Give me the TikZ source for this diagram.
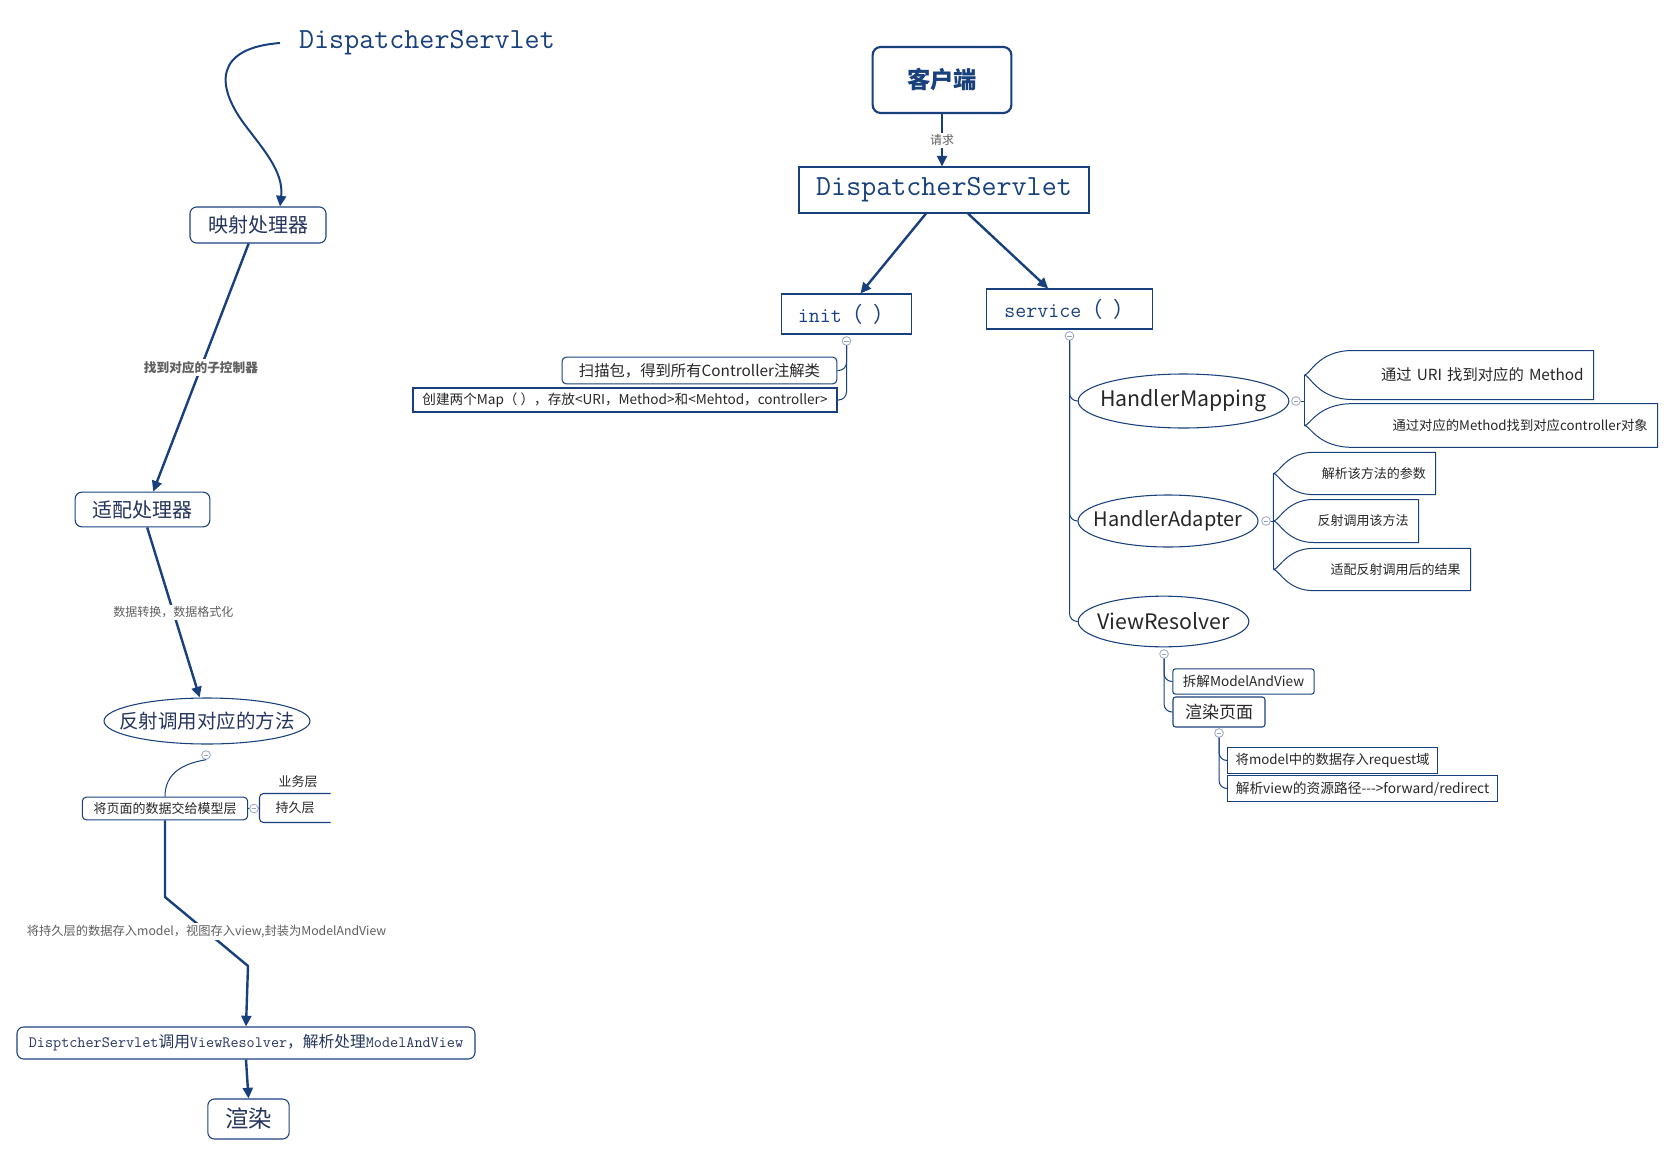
\documentclass[tikz,border=0pt]{standalone}
\usepackage{fontspec}
\setmainfont{Noto Sans CJK SC}
\usetikzlibrary{arrows.meta,shapes.geometric}

\definecolor{navy}{RGB}{24,64,124}
\definecolor{inkblue}{RGB}{36,52,92}
\definecolor{labelgray}{RGB}{95,95,95}
\definecolor{foldgray}{RGB}{150,162,195}

\tikzset{every picture/.style={line width=0.75pt}}
\tikzset{
  flow/.style={draw=navy, line width=1.8pt, -{Triangle[length=8pt,width=7.5pt]}},
  branch/.style={draw=navy, line width=0.75pt, rounded corners=6pt},
  topic/.style={draw=navy, line width=0.8pt, rounded corners=5pt, inner sep=0pt, text=inkblue},
  plainbox/.style={draw=navy, line width=0.8pt, inner sep=0pt, text=black!85},
  oval/.style={draw=navy, line width=0.8pt, ellipse, inner xsep=-18pt, inner ysep=0pt, text=black!85},
  edgelabel/.style={fill=white, text=labelgray, inner sep=1.5pt},
  fold/.style={circle, draw=foldgray, fill=white, line width=0.6pt, minimum size=6.5pt, inner sep=0pt,
    path picture={\draw[foldgray, line width=0.6pt] ([xshift=-1.8pt]path picture bounding box.center) -- ([xshift=1.8pt]path picture bounding box.center);}},
  leaf/.style={align=right, inner xsep=7pt, inner ysep=0pt, text=black!85},
  leafline/.style={draw=navy, line width=0.75pt},
}

\begin{document}
\begin{tikzpicture}[x=0.75pt,y=0.75pt,yscale=-1,xscale=1]
\useasboundingbox (0,0) rectangle (1674,1156);

%Left flow: nodes
\node[text=navy, font=\ttfamily\fontsize{21.9}{24}\selectfont, inner xsep=14pt, inner ysep=2pt, anchor=west] (dstxt) at (280,43) {DispatcherServlet};
%Rounded Rect
\node[topic, minimum width=102pt, minimum height=27pt, font=\fontsize{15}{18}\selectfont] (ys) at (258,225) {映射处理器};
%Rounded Rect
\node[topic, minimum width=101pt, minimum height=26pt, font=\fontsize{15}{18}\selectfont] (sp) at (142.5,509.5) {适配处理器};
%Shape: Ellipse
\node[oval, text=inkblue, minimum width=154.5pt, minimum height=34.5pt, font=\fontsize{14.6}{18}\selectfont] (fs) at (207,721) {反射调用对应的方法};
\node[fold] (fsdot) at (206,755) {};
%Rounded Rect
\node[topic, rounded corners=3pt, text=black!85, minimum width=124pt, minimum height=17pt, font=\fontsize{9.75}{12}\selectfont] (mx) at (165,808.5) {将页面的数据交给模型层};
\node[inner sep=0pt, minimum width=52.5pt, minimum height=21pt, text=black!85, font=\fontsize{9.75}{12}\selectfont] (cj) at (295,808) {持久层};
\draw[navy, line width=0.8pt, rounded corners=3pt] (cj.north east) -- (cj.north west) -- (cj.south west) -- (cj.south east);
\node[text=black!85, font=\fontsize{9.75}{12}\selectfont] (yw) at (298,782) {业务层};
\draw[branch] (mx.east) -- (cj.west);
\node[fold] (mxdot) at (254,808.5) {};
%Rounded Rect
\node[topic, minimum width=343.5pt, minimum height=24pt, font=\fontsize{11.8}{14}\selectfont] (dc) at (246,1043) {{\ttfamily DisptcherServlet}调用{\ttfamily ViewResolver}，解析处理{\ttfamily ModelAndView}};
%Rounded Rect
\node[topic, minimum width=61pt, minimum height=30pt, font=\fontsize{17.5}{20}\selectfont] (xr) at (248.5,1119) {渲染};
\coordinate (bendA) at (165,897);
\coordinate (bendB) at (248,966);

%Left flow: connectors
\draw[flow, line width=1.5pt] (dstxt.west) .. controls (215,48) and (215,85) .. (245,125) .. controls (263,149) and (284,172) .. ([xshift=16.5pt]ys.north);
\draw[flow] ([xshift=-7pt]ys.south) -- node[edgelabel, font=\bfseries\fontsize{9.5}{11}\selectfont] {找到对应的子控制器} ([xshift=8pt]sp.north);
\draw[flow] ([xshift=3.5pt]sp.south) -- node[edgelabel, font=\fontsize{9}{11}\selectfont] {数据转换，数据格式化} ([xshift=-5.5pt]fs.north);
\draw[branch] (fsdot.south) .. controls (180,764) and (165,775) .. (mx.north);
\draw[flow] (mx.south) -- (bendA) -- node[edgelabel, font=\fontsize{9.2}{11}\selectfont] {将持久层的数据存入model，视图存入view,封装为ModelAndView} (bendB) -- (dc.north);
\draw[flow] (dc.south) -- (xr.north);

%Right tree: nodes
\node[draw=navy, line width=1.6pt, rounded corners=6pt, inner sep=0pt, minimum width=104pt, minimum height=49.5pt, text=navy, font=\bfseries\fontsize{17.5}{20}\selectfont] (kh) at (942,80) {客户端};
\node[plainbox, text=navy, minimum width=217.5pt, minimum height=34.5pt, font=\ttfamily\fontsize{21.9}{24}\selectfont] (ds) at (944,190) {DispatcherServlet};
\node[plainbox, text=navy, minimum width=97pt, minimum height=30pt, font=\fontsize{16}{19}\selectfont] (init) at (846.5,314) {{\ttfamily init}（\hspace{0.5em}）};
\node[plainbox, text=navy, minimum width=124pt, minimum height=30pt, font=\fontsize{16}{19}\selectfont] (svc) at (1069.5,309) {{\ttfamily service}（\hspace{0.5em}）};
\draw[flow] (kh.south) -- node[edgelabel, font=\fontsize{9}{11}\selectfont] {请求} (kh.south |- ds.north);
\draw[flow] ([xshift=-13.5pt]ds.south) -- ([xshift=10.5pt]init.north);
\draw[flow] ([xshift=18pt]ds.south) -- ([xshift=-16pt]svc.north);

%init branch
\node[fold] (initdot) at (846.5,341) {};
\node[plainbox, rounded corners=3pt, minimum width=206pt, minimum height=20pt, font=\fontsize{11.5}{14}\selectfont] (scan) at (699.5,370.5) {扫描包，得到所有Controller注解类};
\node[plainbox, minimum width=318pt, minimum height=18pt, font=\fontsize{10.2}{12}\selectfont] (mapc) at (625,400) {创建两个Map（ ），存放<URI，Method>和<Mehtod，controller>};
\draw[branch] (initdot.south) |- (scan.east);
\draw[branch] (initdot.south) |- (mapc.east);

%service branch
\node[fold] (svcdot) at (1069.5,336) {};
\node[oval, minimum width=158pt, minimum height=40.5pt, font=\fontsize{16}{19}\selectfont] (hm) at (1183.5,401) {HandlerMapping};
\node[oval, minimum width=135pt, minimum height=39pt, font=\fontsize{15}{19}\selectfont] (ha) at (1168,521) {HandlerAdapter};
\node[oval, minimum width=128pt, minimum height=38pt, font=\fontsize{16}{19}\selectfont] (vr) at (1163.5,621.5) {ViewResolver};
\draw[branch] (svcdot.south) |- (hm.west);
\draw[branch] (svcdot.south) |- (ha.west);
\draw[branch] (svcdot.south) |- (vr.west);

%HandlerMapping leaves
\node[leaf, text width=202pt, minimum height=36pt, font=\fontsize{11.5}{14}\selectfont] (hmA) at (1449,375) {通过 URI 找到对应的 Method};
\node[leaf, text width=250pt, minimum height=32pt, font=\fontsize{10}{12}\selectfont] (hmB) at (1481,425.5) {通过对应的Method找到对应controller对象};
\draw[leafline] (hmA.west) .. controls ([xshift=4pt]hmA.west) and ([xshift=10pt]hmA.north west) .. ([xshift=36pt]hmA.north west) -- (hmA.north east) -- (hmA.south east) -- ([xshift=36pt]hmA.south west) .. controls ([xshift=10pt]hmA.south west) and ([xshift=4pt]hmA.west) .. (hmA.west);
\draw[leafline] (hmB.west) .. controls ([xshift=4pt]hmB.west) and ([xshift=10pt]hmB.north west) .. ([xshift=36pt]hmB.north west) -- (hmB.north east) -- (hmB.south east) -- ([xshift=36pt]hmB.south west) .. controls ([xshift=10pt]hmB.south west) and ([xshift=4pt]hmB.west) .. (hmB.west);
\node[fold] (hmdot) at (1296,401) {};
\draw[branch] (hmdot.east) -- (hmA.west |- hmdot.east);
\draw[branch] (hmA.west) -- (hmB.west);

%HandlerAdapter leaves
\node[leaf, text width=107pt, minimum height=31pt, font=\fontsize{9.75}{12}\selectfont] (haA) at (1354.5,473.5) {解析该方法的参数};
\node[leaf, text width=94pt, minimum height=31.5pt, font=\fontsize{9.75}{12}\selectfont] (haB) at (1346,521) {反射调用该方法};
\node[leaf, text width=133pt, minimum height=31pt, font=\fontsize{9.75}{12}\selectfont] (haC) at (1372,569.5) {适配反射调用后的结果};
\draw[leafline] (haA.west) .. controls ([xshift=4pt]haA.west) and ([xshift=10pt]haA.north west) .. ([xshift=30pt]haA.north west) -- (haA.north east) -- (haA.south east) -- ([xshift=30pt]haA.south west) .. controls ([xshift=10pt]haA.south west) and ([xshift=4pt]haA.west) .. (haA.west);
\draw[leafline] (haB.west) .. controls ([xshift=4pt]haB.west) and ([xshift=10pt]haB.north west) .. ([xshift=30pt]haB.north west) -- (haB.north east) -- (haB.south east) -- ([xshift=30pt]haB.south west) .. controls ([xshift=10pt]haB.south west) and ([xshift=4pt]haB.west) .. (haB.west);
\draw[leafline] (haC.west) .. controls ([xshift=4pt]haC.west) and ([xshift=10pt]haC.north west) .. ([xshift=30pt]haC.north west) -- (haC.north east) -- (haC.south east) -- ([xshift=30pt]haC.south west) .. controls ([xshift=10pt]haC.south west) and ([xshift=4pt]haC.west) .. (haC.west);
\node[fold] (hadot) at (1266,521) {};
\draw[branch] (hadot.east) -- (haB.west);
\draw[branch] (haA.west) -- (haC.west);

%ViewResolver branch
\node[fold] (vrdot) at (1164,654) {};
\node[plainbox, rounded corners=2pt, minimum width=106pt, minimum height=19pt, font=\fontsize{10.2}{12}\selectfont] (vra) at (1243.5,681.5) {拆解ModelAndView};
\node[plainbox, rounded corners=2pt, minimum width=69pt, minimum height=22.5pt, font=\fontsize{12.75}{15}\selectfont] (vrb) at (1219,712) {渲染页面};
\draw[branch] (vrdot.south) |- (vra.west);
\draw[branch] (vrdot.south) |- (vrb.west);
\node[fold] (xydot) at (1219,733) {};
\node[plainbox, minimum width=157pt, minimum height=19pt, font=\fontsize{10}{12}\selectfont] (rqa) at (1332.5,760.5) {将model中的数据存入request域};
\node[plainbox, minimum width=202pt, minimum height=19pt, font=\fontsize{10.3}{12}\selectfont] (rqb) at (1362.5,788.5) {解析view的资源路径{-}{-}{-}>forward/redirect};
\draw[branch] (xydot.south) |- (rqa.west);
\draw[branch] (xydot.south) |- (rqb.west);

\end{tikzpicture}
\end{document}
